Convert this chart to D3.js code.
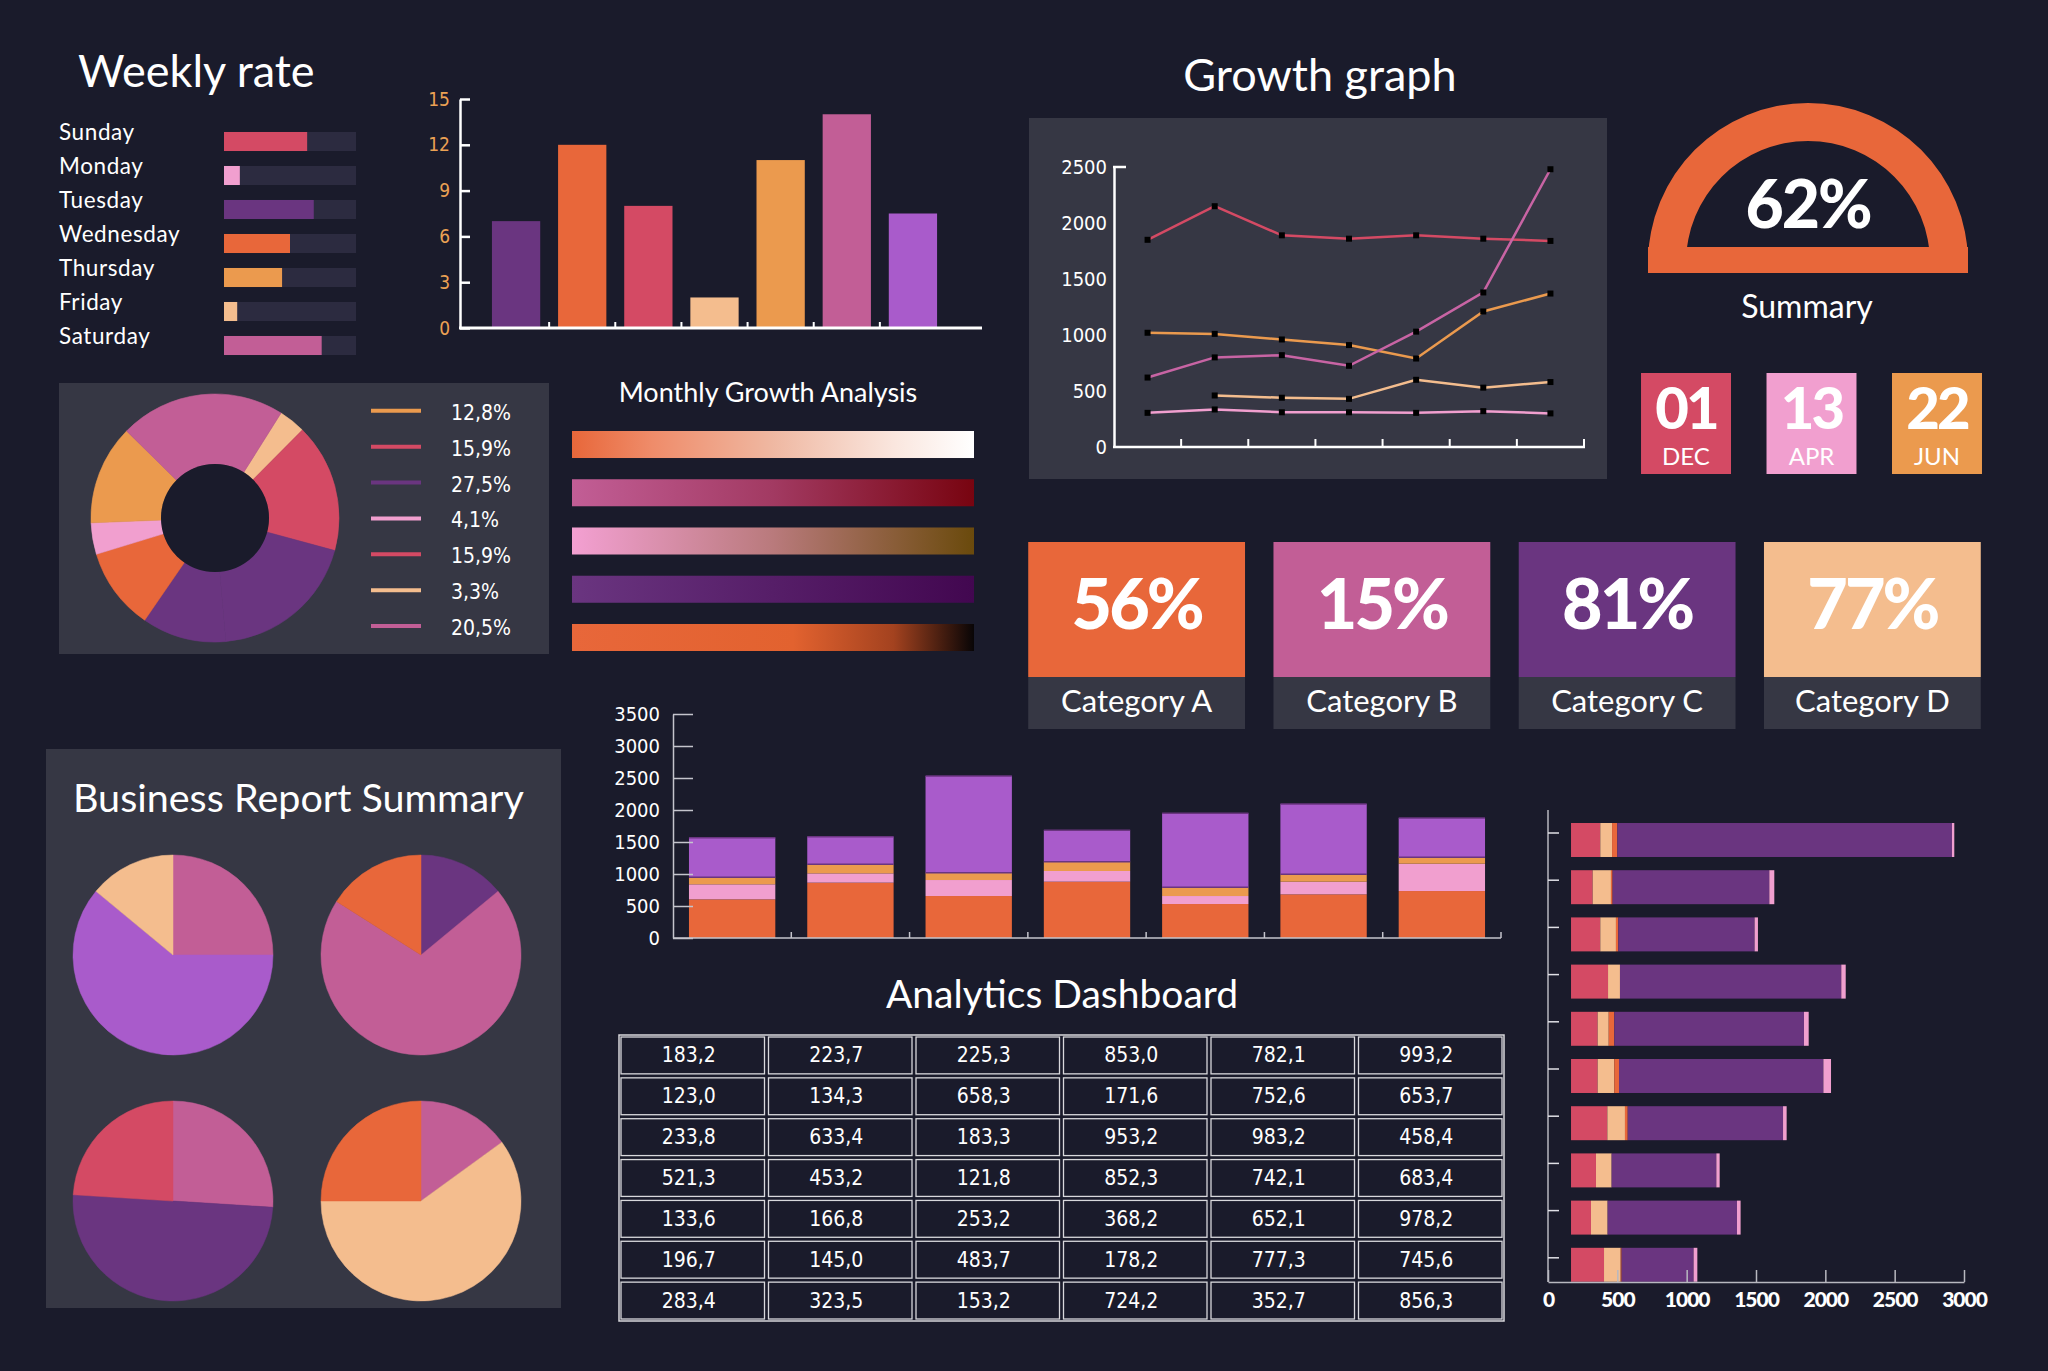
<!DOCTYPE html>
<html>
<head>
<meta charset="utf-8">
<title>Dashboard</title>
<script src="https://cdn.jsdelivr.net/npm/d3@7"></script>
<style>
  body { margin: 0; background: #1a1b2b; }
  svg { display: block; }
</style>
</head>
<body>
<svg id="chart" width="2048" height="1371"></svg>
<script>
// ---- data ----
var weekDays = ["Sunday", "Monday", "Tuesday", "Wednesday", "Thursday", "Friday", "Saturday"];
var weekRates = [63, 12, 68, 50, 44, 10, 74];

var barCats = ["A", "B", "C", "D", "E", "F", "G"];
var barValues = [7, 12, 8, 2, 11, 14, 7.5];
var barTicks = [0, 3, 6, 9, 12, 15];

var growthCats = ["1", "2", "3", "4", "5", "6", "7"];
var growthRed = [1850, 2150, 1890, 1860, 1890, 1860, 1840];
var growthOrange = [1020, 1010, 960, 910, 790, 1210, 1370];
var growthPink = [620, 800, 820, 725, 1030, 1380, 2480];
var growthPeach = [null, 460, 440, 430, 600, 530, 580];
var growthLightPink = [305, 335, 310, 310, 305, 320, 300];
var growthTicks = [0, 500, 1000, 1500, 2000, 2500];

var donutValues = [3.5, 16.8, 19.4, 11.0, 10.7, 4.1, 13.0, 21.6];
var legendLabels = ["12,8%", "15,9%", "27,5%", "4,1%", "15,9%", "3,3%", "20,5%"];

var gaugeLabel = "62%";
var dayNums = ["01", "13", "22"];
var dayMonths = ["DEC", "APR", "JUN"];

var catNames = ["Category A", "Category B", "Category C", "Category D"];
var catPct = [56, 15, 81, 77];

var stackCats = ["1", "2", "3", "4", "5", "6", "7"];
var stackOrange = [604, 865, 656, 880, 531, 682, 734];
var stackLightPink = [235, 145, 250, 167, 125, 198, 427];
var stackLightOrange = [109, 141, 115, 146, 136, 115, 99];
var stackViolet = [620, 432, 1510, 489, 1156, 1099, 615];
var stackTicks = [0, 500, 1000, 1500, 2000, 2500, 3000, 3500];

var tableRows = [
  ["183,2", "223,7", "225,3", "853,0", "782,1", "993,2"],
  ["123,0", "134,3", "658,3", "171,6", "752,6", "653,7"],
  ["233,8", "633,4", "183,3", "953,2", "983,2", "458,4"],
  ["521,3", "453,2", "121,8", "852,3", "742,1", "683,4"],
  ["133,6", "166,8", "253,2", "368,2", "652,1", "978,2"],
  ["196,7", "145,0", "483,7", "178,2", "777,3", "745,6"],
  ["283,4", "323,5", "153,2", "724,2", "352,7", "856,3"]
];

var pieTL = [25, 61, 14];
var pieTR = [14, 70, 16];
var pieBL = [26, 50, 24];
var pieBR = [15, 60, 25];

var hbarCats = ["1", "2", "3", "4", "5", "6", "7", "8", "9", "10"];
var hbarStart = 166;
var hbarRed = [211, 156, 211, 267, 192, 192, 262, 180, 144, 238];
var hbarPeach = [85, 132, 113, 86, 80, 120, 127, 113, 120, 120];
var hbarOrange = [38, 12, 17, 0, 40, 34, 20, 0, 0, 7];
var hbarPurple = [2413, 1130, 983, 1596, 1368, 1474, 1120, 755, 933, 519];
var hbarLightPink = [17, 36, 24, 32, 34, 55, 26, 24, 26, 27];
var hbarTicks = [0, 500, 1000, 1500, 2000, 2500, 3000];

// ---- colours and fonts ----
var C = {
  bg: "#1a1b2b", panel: "#363744", track: "#2c2b40",
  red: "#d44a64", orange: "#e8673a", lorange: "#eb9a4e", peach: "#f4bd8e",
  pink: "#c25e96", lpink: "#f19fcf", purple: "#6a3580", violet: "#a95bcb"
};
var weekColors = [C.red, C.lpink, C.purple, C.orange, C.lorange, C.peach, C.pink];
var barColors = [C.purple, C.orange, C.red, C.peach, C.lorange, C.pink, C.violet];
var donutColors = [C.peach, C.red, C.purple, C.purple, C.orange, C.lpink, C.lorange, C.pink];
var legendColors = [C.lorange, C.red, C.purple, C.lpink, C.red, C.peach, C.pink];
var catColors = [C.orange, C.pink, C.purple, C.peach];
var dayColors = [C.red, C.lpink, C.lorange];
var gradStops = [
  [[0, "#e8673a"], [0.2, "#ef8c6a"], [0.5, "#efb8a2"], [0.8, "#fae6de"], [1, "#ffffff"]],
  [[0, "#c25e96"], [0.5, "#a23a62"], [1, "#780410"]],
  [[0, "#f3a0d2"], [0.5, "#b97a7c"], [1, "#6a4a0c"]],
  [[0, "#6a3580"], [1, "#420750"]],
  [[0, "#e8673a"], [0.55, "#e2622f"], [0.8, "#a3421f"], [1, "#080506"]]
];

var TXT = "Lato, 'Open Sans', sans-serif";
var NUM = "'Liberation Sans Narrow', 'DejaVu Sans Condensed', Lato, sans-serif";
var HEAVY = "Lato, Roboto, sans-serif";
var plain = d3.format("d");

var svg = d3.select("#chart");
svg.append("rect").attr("width", 2048).attr("height", 1371).attr("fill", C.bg);
var defs = svg.append("defs");

function label(g, x, y, txt, size, anchor, fam, weight) {
  return g.append("text")
    .attr("x", x).attr("y", y)
    .attr("fill", "#ffffff")
    .attr("font-family", fam || TXT)
    .attr("font-size", size)
    .attr("font-weight", weight || 400)
    .attr("text-anchor", anchor || "start")
    .text(txt);
}

// ---- weekly rate ----
weekly();
function weekly() {
  label(svg, 78, 87, "Weekly rate", 45);
  var y = d3.scaleBand().domain(weekDays).range([124.5, 362.5]).paddingInner(0.44).paddingOuter(0.22);
  var x = d3.scaleLinear().domain([0, 100]).range([0, 132]);
  var g = svg.append("g");
  weekDays.forEach(function(d, i) {
    label(g, 59, y(d) + 8, d, 22.5).attr("letter-spacing", 0.6);
    g.append("rect").attr("x", 224).attr("y", y(d)).attr("width", x(100)).attr("height", y.bandwidth()).attr("fill", C.track);
    g.append("rect").attr("x", 224).attr("y", y(d)).attr("width", x(weekRates[i])).attr("height", y.bandwidth()).attr("fill", weekColors[i]);
  });
}

// ---- top bar chart ----
topBars();
function topBars() {
  var x = d3.scaleBand().domain(barCats).range([483, 946]).paddingInner(0.27).paddingOuter(0.135);
  var y = d3.scaleLinear().domain([0, 15]).range([328, 99]);
  var g = svg.append("g");
  g.selectAll(".bar").data(barValues).enter().append("rect")
    .attr("x", function(d, i) { return x(barCats[i]); })
    .attr("y", function(d) { return y(d); })
    .attr("width", x.bandwidth())
    .attr("height", function(d) { return y(0) - y(d); })
    .attr("fill", function(d, i) { return barColors[i]; });
  var ax = g.append("g").attr("transform", "translate(460,0)")
    .call(d3.axisLeft(y).tickValues(barTicks).tickSize(-10).tickSizeOuter(0).tickPadding(10));
  ax.select(".domain").attr("stroke", "#fff").attr("stroke-width", 2.5);
  ax.selectAll("line").attr("stroke", "#fff").attr("stroke-width", 2.5);
  ax.selectAll("text").attr("fill", "#eba154").attr("font-family", NUM).attr("font-size", 19);
  g.append("line").attr("x1", 459).attr("x2", 982).attr("y1", y(0)).attr("y2", y(0)).attr("stroke", "#fff").attr("stroke-width", 3);
  g.selectAll(".xt").data(barCats.slice(1)).enter().append("line")
    .attr("x1", function(d) { return x(d) - x.step() * 0.135; })
    .attr("x2", function(d) { return x(d) - x.step() * 0.135; })
    .attr("y1", y(0)).attr("y2", y(0) - 6)
    .attr("stroke", "#fff").attr("stroke-width", 2);
}

// ---- donut with legend ----
donut();
function donut() {
  svg.append("rect").attr("x", 59).attr("y", 383).attr("width", 490).attr("height", 271).attr("fill", C.panel);
  var a0 = 32.2 * Math.PI / 180;
  var pie = d3.pie().sort(null).startAngle(a0).endAngle(a0 + 2 * Math.PI);
  var arc = d3.arc().innerRadius(54).outerRadius(124);
  var g = svg.append("g").attr("transform", "translate(215,518)");
  g.selectAll("path").data(pie(donutValues)).enter().append("path")
    .attr("d", arc)
    .attr("fill", function(d, i) { return donutColors[i]; })
    .attr("stroke", function(d, i) { return donutColors[i]; })
    .attr("stroke-width", 0.6);
  g.append("circle").attr("r", 54).attr("fill", C.bg);
  var y = d3.scaleBand().domain(legendLabels.map(function(d, i) { return i; })).range([392.8, 644]);
  legendLabels.forEach(function(d, i) {
    var cy = y(i) + y.bandwidth() / 2;
    svg.append("line").attr("x1", 371).attr("x2", 421).attr("y1", cy).attr("y2", cy)
      .attr("stroke", legendColors[i]).attr("stroke-width", 4);
    label(svg, 451, cy + 9, d, 21, "start", NUM);
  });
}

// ---- monthly growth gradients ----
gradients();
function gradients() {
  label(svg, 768, 402, "Monthly Growth Analysis", 27, "middle");
  var y = d3.scaleBand().domain(d3.range(gradStops.length)).range([431, 651]).paddingInner(0.44);
  gradStops.forEach(function(stops, i) {
    var lg = defs.append("linearGradient").attr("id", "grad" + i);
    stops.forEach(function(s) {
      lg.append("stop").attr("offset", s[0]).attr("stop-color", s[1]);
    });
    svg.append("rect").attr("x", 572).attr("y", y(i)).attr("width", 402).attr("height", y.bandwidth())
      .attr("fill", "url(#grad" + i + ")");
  });
}

// ---- growth graph ----
growth();
function growth() {
  label(svg, 1320, 91, "Growth graph", 45, "middle");
  svg.append("rect").attr("x", 1029).attr("y", 118).attr("width", 578).attr("height", 361).attr("fill", C.panel);
  var x = d3.scaleBand().domain(growthCats).range([1114, 1584]);
  var y = d3.scaleLinear().domain([0, 2500]).range([447, 167]);
  var g = svg.append("g");
  var series = [
    { v: growthRed, c: C.red },
    { v: growthOrange, c: C.lorange },
    { v: growthPink, c: "#c864a4" },
    { v: growthPeach, c: C.peach },
    { v: growthLightPink, c: C.lpink }
  ];
  var line = d3.line()
    .defined(function(d) { return d != null; })
    .x(function(d, i) { return x(growthCats[i]) + x.bandwidth() / 2; })
    .y(function(d) { return y(d); });
  series.forEach(function(s) {
    g.append("path").attr("d", line(s.v)).attr("fill", "none").attr("stroke", s.c).attr("stroke-width", 2.5);
  });
  series.forEach(function(s) {
    s.v.forEach(function(d, i) {
      if (d == null) return;
      g.append("rect")
        .attr("x", x(growthCats[i]) + x.bandwidth() / 2 - 3)
        .attr("y", y(d) - 3)
        .attr("width", 6).attr("height", 6).attr("fill", "#000");
    });
  });
  var ax = g.append("g").attr("transform", "translate(1114,0)")
    .call(d3.axisLeft(y).tickValues(growthTicks).tickFormat(plain).tickSize(0).tickPadding(7));
  ax.select(".domain").attr("stroke", "#fff").attr("stroke-width", 2.5);
  ax.selectAll("text").attr("fill", "#fff").attr("font-family", NUM).attr("font-size", 20);
  g.append("line").attr("x1", 1113).attr("x2", 1126).attr("y1", y(2500)).attr("y2", y(2500)).attr("stroke", "#fff").attr("stroke-width", 2.5);
  g.append("line").attr("x1", 1113).attr("x2", 1585).attr("y1", y(0)).attr("y2", y(0)).attr("stroke", "#fff").attr("stroke-width", 2.5);
  g.selectAll(".xt").data(growthCats).enter().append("line")
    .attr("x1", function(d) { return x(d) + x.bandwidth(); })
    .attr("x2", function(d) { return x(d) + x.bandwidth(); })
    .attr("y1", y(0)).attr("y2", y(0) - 8)
    .attr("stroke", "#fff").attr("stroke-width", 2);
}

// ---- gauge + dates ----
gauge();
function gauge() {
  var arc = d3.arc().innerRadius(122).outerRadius(160).startAngle(-Math.PI / 2).endAngle(Math.PI / 2);
  svg.append("path").attr("transform", "translate(1808,263)").attr("d", arc).attr("fill", C.orange);
  svg.append("rect").attr("x", 1648).attr("y", 247).attr("width", 320).attr("height", 26).attr("fill", C.orange);
  label(svg, 1808, 228, gaugeLabel, 66, "middle", HEAVY, 900).attr("letter-spacing", -2);
  label(svg, 1807, 318, "Summary", 32, "middle");
  var x = d3.scaleBand().domain(dayNums).range([1641 - 17.8, 1982 + 17.8]).paddingInner(0.283).paddingOuter(0.142);
  dayNums.forEach(function(d, i) {
    svg.append("rect").attr("x", x(d)).attr("y", 373).attr("width", x.bandwidth()).attr("height", 101).attr("fill", dayColors[i]);
    label(svg, x(d) + x.bandwidth() / 2, 429, d, 58, "middle", HEAVY, 900).attr("letter-spacing", -3);
    label(svg, x(d) + x.bandwidth() / 2, 465, dayMonths[i], 24, "middle");
  });
}

// ---- category boxes ----
categories();
function categories() {
  var x = d3.scaleBand().domain(catNames).range([1028 - 14, 1981 + 14]).paddingInner(0.116).paddingOuter(0.058);
  catNames.forEach(function(d, i) {
    svg.append("rect").attr("x", x(d)).attr("y", 542).attr("width", x.bandwidth()).attr("height", 135).attr("fill", catColors[i]);
    svg.append("rect").attr("x", x(d)).attr("y", 677).attr("width", x.bandwidth()).attr("height", 52).attr("fill", C.panel);
    label(svg, x(d) + x.bandwidth() / 2, 629, catPct[i] + "%", 70, "middle", HEAVY, 900).attr("letter-spacing", -3);
    label(svg, x(d) + x.bandwidth() / 2, 712, d, 31, "middle");
  });
}

// ---- stacked bars ----
stacked();
function stacked() {
  var rows = stackCats.map(function(d, i) {
    return { cat: d, o: stackOrange[i], lp: stackLightPink[i], lo: stackLightOrange[i], v: stackViolet[i] };
  });
  var keys = ["o", "lp", "lo", "v"];
  var colors = [C.orange, C.lpink, C.lorange, C.violet];
  var x = d3.scaleBand().domain(stackCats).range([673, 1501]).paddingInner(0.27).paddingOuter(0.135);
  var y = d3.scaleLinear().domain([0, 3500]).range([938, 714]);
  var g = svg.append("g");
  var layers = d3.stack().keys(keys)(rows);
  layers.forEach(function(layer, k) {
    g.selectAll(".s" + k).data(layer).enter().append("rect")
      .attr("x", function(d) { return x(d.data.cat); })
      .attr("y", function(d) { return y(d[1]); })
      .attr("width", x.bandwidth())
      .attr("height", function(d) { return y(d[0]) - y(d[1]); })
      .attr("fill", colors[k]);
  });
  // thin dark rims on the violet blocks
  layers[3].forEach(function(d) {
    [d[0], d[1]].forEach(function(v) {
      g.append("line").attr("x1", x(d.data.cat)).attr("x2", x(d.data.cat) + x.bandwidth())
        .attr("y1", y(v)).attr("y2", y(v)).attr("stroke", C.purple).attr("stroke-width", 1.5);
    });
  });
  var ax = g.append("g").attr("transform", "translate(673,0)")
    .call(d3.axisLeft(y).tickValues(stackTicks).tickFormat(plain).tickSize(-20).tickSizeOuter(0).tickPadding(13));
  ax.select(".domain").attr("stroke", "#c4c4cc").attr("stroke-width", 1.5);
  ax.selectAll("line").attr("stroke", "#c4c4cc").attr("stroke-width", 1.5);
  ax.selectAll("text").attr("fill", "#fff").attr("font-family", NUM).attr("font-size", 20);
  g.append("line").attr("x1", 673).attr("x2", 1501).attr("y1", y(0)).attr("y2", y(0)).attr("stroke", "#c4c4cc").attr("stroke-width", 1.5);
  g.selectAll(".xt").data(stackCats).enter().append("line")
    .attr("x1", function(d) { return x(d) + x.step() * (1 - 0.135); })
    .attr("x2", function(d) { return x(d) + x.step() * (1 - 0.135); })
    .attr("y1", y(0)).attr("y2", y(0) - 6)
    .attr("stroke", "#c4c4cc").attr("stroke-width", 1.5);
}

// ---- table ----
table();
function table() {
  label(svg, 1062, 1008, "Analytics Dashboard", 39, "middle");
  var x = d3.scaleBand().domain(d3.range(6)).range([619, 1504]);
  var y = d3.scaleBand().domain(d3.range(tableRows.length)).range([1035, 1321]);
  var g = svg.append("g");
  g.append("rect").attr("x", 619).attr("y", 1035).attr("width", 885).attr("height", 286)
    .attr("fill", "none").attr("stroke", "#d8d8dc").attr("stroke-width", 1.5);
  tableRows.forEach(function(row, r) {
    row.forEach(function(v, c) {
      g.append("rect").attr("x", x(c) + 2).attr("y", y(r) + 2)
        .attr("width", x.bandwidth() - 4).attr("height", y.bandwidth() - 4)
        .attr("fill", "none").attr("stroke", "#d8d8dc").attr("stroke-width", 1.3);
      label(g, x(c) + x.bandwidth() / 2 - 4, y(r) + y.bandwidth() / 2 + 7, v, 21, "middle", NUM);
    });
  });
}

// ---- business report pies ----
pies();
function pies() {
  svg.append("rect").attr("x", 46).attr("y", 749).attr("width", 515).attr("height", 559).attr("fill", C.panel);
  label(svg, 73, 812, "Business Report Summary", 39.5);
  var pie = d3.pie().sort(null);
  var arc = d3.arc().innerRadius(0).outerRadius(100);
  var sets = [
    { v: pieTL, c: [C.pink, C.violet, C.peach], x: 173, y: 955 },
    { v: pieTR, c: [C.purple, C.pink, C.orange], x: 421, y: 955 },
    { v: pieBL, c: [C.pink, C.purple, C.red], x: 173, y: 1201 },
    { v: pieBR, c: [C.pink, C.peach, C.orange], x: 421, y: 1201 }
  ];
  sets.forEach(function(s) {
    var g = svg.append("g").attr("transform", "translate(" + s.x + "," + s.y + ")");
    g.selectAll("path").data(pie(s.v)).enter().append("path")
      .attr("d", arc)
      .attr("fill", function(d, i) { return s.c[i]; })
      .attr("stroke", function(d, i) { return s.c[i]; })
      .attr("stroke-width", 0.5);
  });
}

// ---- horizontal stacked bars ----
hbars();
function hbars() {
  var rows = hbarCats.map(function(d, i) {
    return { cat: d, r: hbarRed[i], p: hbarPeach[i], o: hbarOrange[i], pu: hbarPurple[i], lp: hbarLightPink[i] };
  });
  var keys = ["r", "p", "o", "pu", "lp"];
  var colors = [C.red, C.peach, C.orange, C.purple, C.lpink];
  var x = d3.scaleLinear().domain([0, 3000]).range([1548, 1964]);
  var y = d3.scaleBand().domain(hbarCats).range([816.4, 1288.4]).paddingInner(0.28).paddingOuter(0.14);
  var g = svg.append("g");
  d3.stack().keys(keys)(rows).forEach(function(layer, k) {
    g.selectAll(".h" + k).data(layer).enter().append("rect")
      .attr("x", function(d) { return x(hbarStart + d[0]); })
      .attr("y", function(d) { return y(d.data.cat); })
      .attr("width", function(d) { return x(hbarStart + d[1]) - x(hbarStart + d[0]); })
      .attr("height", y.bandwidth())
      .attr("fill", colors[k]);
  });
  g.append("line").attr("x1", 1548).attr("x2", 1548).attr("y1", 810).attr("y2", 1282).attr("stroke", "#b8b8c0").attr("stroke-width", 1.5);
  g.selectAll(".yt").data(hbarCats).enter().append("line")
    .attr("x1", 1548).attr("x2", 1559)
    .attr("y1", function(d) { return y(d) + y.bandwidth() / 2 - 7; })
    .attr("y2", function(d) { return y(d) + y.bandwidth() / 2 - 7; })
    .attr("stroke", "#e0e0e6").attr("stroke-width", 1.5);
  var ax = g.append("g").attr("transform", "translate(0,1282)")
    .call(d3.axisBottom(x).tickValues(hbarTicks).tickFormat(plain).tickSize(-12).tickSizeOuter(0).tickPadding(10));
  ax.select(".domain").attr("stroke", "#b8b8c0").attr("stroke-width", 1.5);
  ax.selectAll("line").attr("stroke", "#b8b8c0").attr("stroke-width", 1.5);
  ax.selectAll("text").attr("fill", "#fff").attr("font-family", HEAVY).attr("font-weight", 900)
    .attr("font-size", 21).attr("letter-spacing", -1);
}
</script>
</body>
</html>
